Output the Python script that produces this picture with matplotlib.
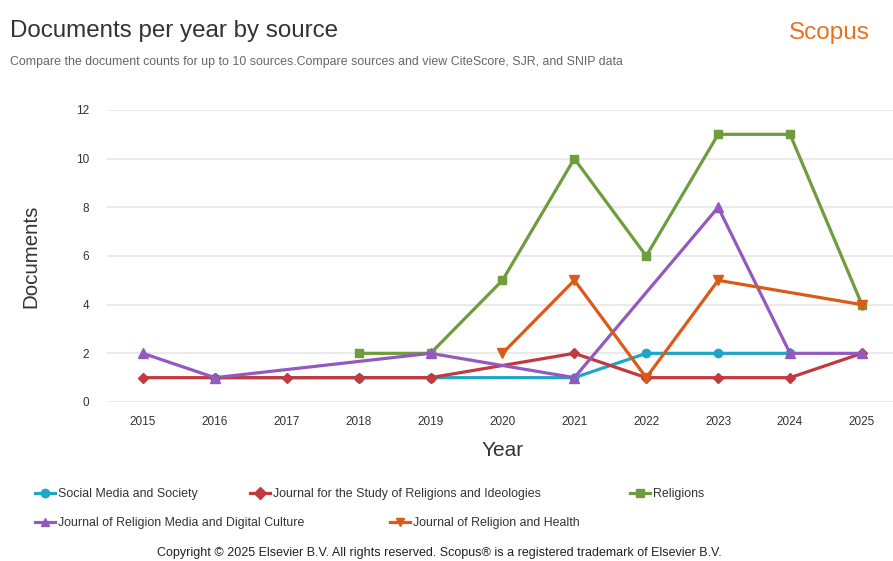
import matplotlib
matplotlib.use("Agg")
import matplotlib.pyplot as plt
from matplotlib.lines import Line2D

plt.rcParams['font.family'] = ['Liberation Sans', 'DejaVu Sans']

years_sms = [2016, 2018, 2019, 2021, 2022, 2023, 2024]
vals_sms = [1, 1, 1, 1, 2, 2, 2]
years_jsri = [2015, 2016, 2017, 2018, 2019, 2021, 2022, 2023, 2024, 2025]
vals_jsri = [1, 1, 1, 1, 1, 2, 1, 1, 1, 2]
years_rel = [2018, 2019, 2020, 2021, 2022, 2023, 2024, 2025]
vals_rel = [2, 2, 5, 10, 6, 11, 11, 4]
years_jrmdc = [2015, 2016, 2019, 2021, 2023, 2024, 2025]
vals_jrmdc = [2, 1, 2, 1, 8, 2, 2]
years_jrh = [2020, 2021, 2022, 2023, 2025]
vals_jrh = [2, 5, 1, 5, 4]

series_names = ["Social Media and Society",
                "Journal for the Study of Religions and Ideologies",
                "Religions",
                "Journal of Religion Media and Digital Culture",
                "Journal of Religion and Health"]
x_ticks = list(range(2015, 2026))
y_ticks = [0, 2, 4, 6, 8, 10, 12]

colors = ["#1ea5c8", "#c03a3f", "#6f9c3d", "#9459bf", "#da5a1a"]
markers = ["o", "D", "s", "^", "v"]
msizes = [6, 5, 6, 7, 7]
data = [(years_sms, vals_sms), (years_jsri, vals_jsri), (years_rel, vals_rel),
        (years_jrmdc, vals_jrmdc), (years_jrh, vals_jrh)]

W, H = 893, 561
fig = plt.figure(figsize=(W / 100, H / 100), dpi=100)
left, right, top, bottom = 107, 893, 110, 402
ax = fig.add_axes([left / W, 1 - bottom / H, (right - left) / W, (bottom - top) / H])

handles = []
for (xs, ys), c, m, ms in zip(data, colors, markers, msizes):
    h, = ax.plot(xs, ys, color=c, marker=m, markersize=ms, linewidth=2.3, clip_on=False, zorder=3)
    handles.append(h)

ax.set_xlim(2014.5, 2014.5 + (right - left) / 71.9)
ax.set_ylim(0, 12)
ax.set_xticks(x_ticks)
ax.set_xticklabels([str(x) for x in x_ticks])
ax.set_yticks(y_ticks)
ax.set_yticklabels([str(y) for y in y_ticks])
ax.tick_params(axis='both', length=0, labelsize=8.5, colors="#333333")
ax.tick_params(axis='x', pad=10)
ax.tick_params(axis='y', pad=13)
ax.grid(axis='y', color="#e6e6e6", linewidth=1.2)
ax.set_axisbelow(True)
for s in ax.spines.values():
    s.set_visible(False)

fig.text(31 / W, 1 - 256 / H, "Documents", rotation=90, ha='center', va='center',
         fontsize=14.8, color="#333333")
fig.text(503 / W, 1 - 450 / H, "Year", ha='center', va='center', fontsize=15, color="#333333")

fig.text(10 / W, 1 - 31 / H, "Documents per year by source", ha='left', va='center',
         fontsize=17.4, color="#333333")
fig.text(10 / W, 1 - 62 / H,
         "Compare the document counts for up to 10 sources.Compare sources and view CiteScore, SJR, and SNIP data",
         ha='left', va='center', fontsize=8.9, color="#666666")
fig.text(870 / W, 1 - 33 / H, "Scopus", ha='right', va='center', fontsize=17.5, color="#e8731e")

legend_pos = [(35, 494), (250, 494), (630, 494), (35, 523), (390, 523)]
for h, name, (px, py) in zip(handles, series_names, legend_pos):
    lh = Line2D([], [], color=h.get_color(), marker=h.get_marker(), markersize=6, linewidth=2.3)
    fig.legend([lh], [name], loc='center left', bbox_to_anchor=(px / W, 1 - py / H),
               frameon=False, fontsize=8.9, handlelength=1.6, handletextpad=0.25,
               borderaxespad=0, borderpad=0, labelcolor="#333333")

fig.text(439 / W, 1 - 553 / H,
         "Copyright \u00a9 2025 Elsevier B.V. All rights reserved. Scopus\u00ae is a registered trademark of Elsevier B.V.",
         ha='center', va='center', fontsize=9, color="#222222")

fig.savefig("out.png", dpi=100)
